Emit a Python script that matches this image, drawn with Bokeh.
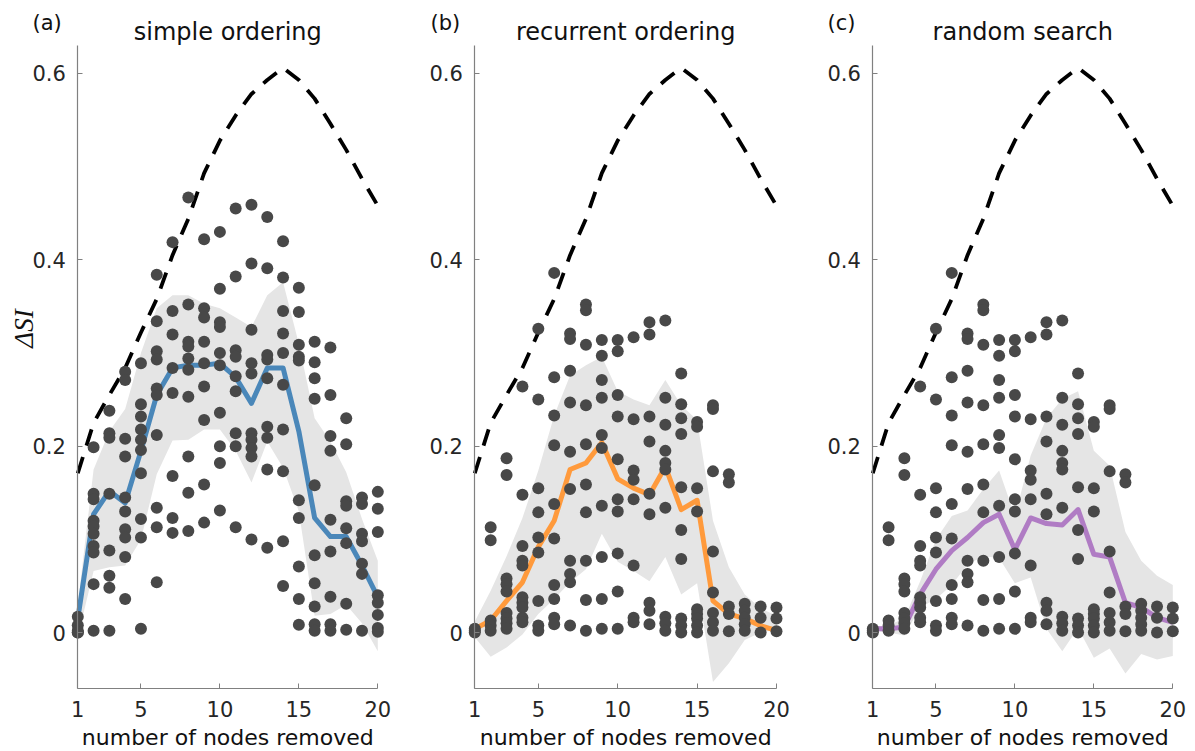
import math
from bokeh.plotting import figure
from bokeh.models import Range1d, FixedTicker, Label
from bokeh.layouts import row
from bokeh.embed import file_html
from bokeh.resources import INLINE

# ---------------- data ----------------
x_nodes = list(range(1, 21))
x_ticks = [1, 5, 10, 15, 20]
x_tick_labels = ["1", "5", "10", "15", "20"]
y_ticks = [0, 0.2, 0.4, 0.6]
y_tick_labels = ["0", "0.2", "0.4", "0.6"]

panel_titles = ["simple ordering", "recurrent ordering", "random search"]
panel_tags = ["(a)", "(b)", "(c)"]
x_label = "number of nodes removed"
y_label = "\u0394SI"

# dashed reference curve (same in every panel)
upper_curve = [0.171, 0.225, 0.255, 0.284, 0.322, 0.358, 0.405, 0.444, 0.493, 0.528,
               0.555, 0.578, 0.593, 0.606, 0.593, 0.573, 0.546, 0.518, 0.487, 0.458]

# individual trials, one list per number of removed nodes
scatter_simple = [
    [0.017, 0.008, 0.002, 0.0, 0.0],
    [0.199, 0.149, 0.143, 0.12, 0.114, 0.106, 0.093, 0.086, 0.052, 0.002],
    [0.238, 0.214, 0.209, 0.149, 0.088, 0.061, 0.048, 0.002],
    [0.28, 0.271, 0.208, 0.189, 0.145, 0.13, 0.111, 0.102, 0.081, 0.036],
    [0.289, 0.245, 0.232, 0.218, 0.207, 0.196, 0.171, 0.122, 0.102, 0.004],
    [0.384, 0.334, 0.302, 0.293, 0.262, 0.255, 0.212, 0.134, 0.113, 0.054],
    [0.419, 0.345, 0.32, 0.284, 0.257, 0.168, 0.123, 0.107],
    [0.467, 0.352, 0.312, 0.307, 0.294, 0.282, 0.253, 0.189, 0.15, 0.109],
    [0.422, 0.348, 0.338, 0.312, 0.289, 0.264, 0.228, 0.159, 0.118],
    [0.43, 0.369, 0.333, 0.328, 0.3, 0.287, 0.236, 0.2, 0.182, 0.131],
    [0.455, 0.382, 0.303, 0.296, 0.275, 0.259, 0.214, 0.2, 0.113],
    [0.459, 0.396, 0.325, 0.289, 0.278, 0.214, 0.207, 0.198, 0.189, 0.1],
    [0.446, 0.391, 0.298, 0.293, 0.273, 0.221, 0.209, 0.175, 0.091],
    [0.42, 0.381, 0.345, 0.321, 0.3, 0.266, 0.218, 0.173, 0.098, 0.05],
    [0.37, 0.344, 0.309, 0.296, 0.292, 0.142, 0.123, 0.071, 0.036, 0.0085],
    [0.312, 0.29, 0.273, 0.251, 0.158, 0.083, 0.053, 0.028, 0.009, 0.002],
    [0.306, 0.255, 0.211, 0.195, 0.121, 0.087, 0.0385, 0.009, 0.002],
    [0.23, 0.202, 0.141, 0.136, 0.112, 0.096, 0.031, 0.003],
    [0.145, 0.138, 0.106, 0.098, 0.074, 0.063, 0.002],
    [0.151, 0.133, 0.108, 0.04, 0.032, 0.019, 0.005, 0.001],
]

scatter_recurrent = [
    [0.004, 0.002, 0.0],
    [0.113, 0.099, 0.013, 0.0075, 0.002],
    [0.187, 0.169, 0.058, 0.052, 0.044, 0.021, 0.015, 0.01, 0.004],
    [0.264, 0.148, 0.093, 0.077, 0.072, 0.038, 0.032, 0.027, 0.016, 0.011],
    [0.326, 0.25, 0.155, 0.129, 0.102, 0.086, 0.034, 0.0075, 0.002],
    [0.386, 0.274, 0.233, 0.201, 0.138, 0.101, 0.051, 0.036, 0.016, 0.009],
    [0.321, 0.315, 0.281, 0.247, 0.194, 0.154, 0.077, 0.063, 0.054, 0.0075],
    [0.352, 0.346, 0.309, 0.244, 0.202, 0.159, 0.129, 0.077, 0.035, 0.002],
    [0.314, 0.297, 0.271, 0.252, 0.212, 0.198, 0.136, 0.081, 0.036, 0.004],
    [0.314, 0.302, 0.255, 0.232, 0.186, 0.143, 0.13, 0.085, 0.044, 0.004],
    [0.317, 0.229, 0.174, 0.164, 0.143, 0.072, 0.016, 0.011],
    [0.333, 0.32, 0.232, 0.205, 0.149, 0.127, 0.032, 0.0235, 0.009],
    [0.335, 0.252, 0.223, 0.195, 0.182, 0.175, 0.134, 0.017, 0.01, 0.002],
    [0.278, 0.245, 0.23, 0.213, 0.156, 0.11, 0.079, 0.015, 0.0075, 0.0],
    [0.226, 0.221, 0.155, 0.13, 0.025, 0.02, 0.015, 0.0075, 0.0],
    [0.244, 0.24, 0.173, 0.087, 0.043, 0.021, 0.011, 0.002],
    [0.17, 0.161, 0.028, 0.02, 0.0015],
    [0.031, 0.0235, 0.016, 0.009, 0.002],
    [0.028, 0.016, 0.0],
    [0.027, 0.015, 0.0015],
]

# the random-search panel shows the same trial cloud
scatter_random = scatter_recurrent

mean_simple = [0.015, 0.127, 0.152, 0.139, 0.195, 0.255, 0.284, 0.287, 0.287, 0.289,
               0.274, 0.246, 0.284, 0.284, 0.216, 0.123, 0.103, 0.103, 0.072, 0.038]
upper_simple = [0.03, 0.175, 0.216, 0.24, 0.3, 0.348, 0.362, 0.362, 0.353, 0.348,
                0.338, 0.328, 0.362, 0.376, 0.31, 0.23, 0.205, 0.172, 0.122, 0.077]
lower_simple = [-0.005, 0.066, 0.07, 0.072, 0.1, 0.17, 0.206, 0.207, 0.218, 0.218,
                0.195, 0.161, 0.205, 0.177, 0.13, 0.018, 0.02, 0.03, 0.01, -0.02]

mean_recurrent = [0.004, 0.013, 0.034, 0.054, 0.092, 0.12, 0.175, 0.182, 0.204, 0.165,
                  0.155, 0.148, 0.178, 0.132, 0.142, 0.034, 0.02, 0.015, 0.0075, 0.002]
upper_recurrent = [0.012, 0.045, 0.082, 0.123, 0.174, 0.233, 0.276, 0.287, 0.296, 0.259,
                   0.25, 0.244, 0.271, 0.244, 0.228, 0.12, 0.07, 0.041, 0.026, 0.018]
lower_recurrent = [-0.005, -0.026, -0.016, -0.002, 0.02, 0.036, 0.054, 0.068, 0.106, 0.076,
                   0.066, 0.055, 0.081, 0.041, 0.053, -0.053, -0.033, -0.008, 0.0, 0.003]

mean_random = [0.004, 0.004, 0.006, 0.041, 0.068, 0.088, 0.102, 0.118, 0.127, 0.089,
               0.123, 0.117, 0.1155, 0.132, 0.084, 0.081, 0.032, 0.027, 0.016, 0.011]
upper_random = [0.006, 0.008, 0.015, 0.055, 0.1, 0.125, 0.131, 0.154, 0.174, 0.125,
                0.19, 0.23, 0.251, 0.259, 0.195, 0.179, 0.108, 0.077, 0.061, 0.051]
lower_random = [0.002, 0.0, -0.003, 0.027, 0.036, 0.051, 0.073, 0.082, 0.08, 0.053,
                0.059, 0.004, -0.02, 0.005, -0.027, -0.017, -0.044, -0.023, -0.029, -0.025]

line_colors = ["#4a87b9", "#ff9a3c", "#b07cc4"]

# ---------------- layout (pixel geometry) ----------------
FONT = "DejaVu Sans"
TEXT_COLOR = "#262626"
AXIS_COLOR = "#808080"
DOT_COLOR = "#484848"
BAND_COLOR = "#e5e5e5"

HEIGHT = 751
Y_MIN, Y_MAX = -0.06, 0.63
AXIS_BOTTOM_PX = 688    # canvas row where y = Y_MIN
AXIS_TOP_PX = 45        # canvas row where y = Y_MAX
PX_PER_Y = (AXIS_BOTTOM_PX - AXIS_TOP_PX) / (Y_MAX - Y_MIN)


def y_at(px_row):
    return Y_MIN + (AXIS_BOTTOM_PX - px_row) / PX_PER_Y


panels = [
    dict(scatter=scatter_simple, mean=mean_simple, upper=upper_simple, lower=lower_simple,
         width=397, x1_px=77.3, x20_px=377.3, tag_px=32, ylab=True),
    dict(scatter=scatter_recurrent, mean=mean_recurrent, upper=upper_recurrent, lower=lower_recurrent,
         width=399, x1_px=77.3, x20_px=379.0, tag_px=33, ylab=False),
    dict(scatter=scatter_random, mean=mean_random, upper=upper_random, lower=lower_random,
         width=399, x1_px=76.3, x20_px=376.3, tag_px=31, ylab=False),
]

figs = []
for i, cfg in enumerate(panels):
    ppx = (cfg["x20_px"] - cfg["x1_px"]) / 19.0
    x_start = 1 - cfg["x1_px"] / ppx
    x_end = x_start + cfg["width"] / ppx

    def x_at(px_col, x_start=x_start, ppx=ppx):
        return x_start + px_col / ppx

    p = figure(width=cfg["width"], height=HEIGHT,
               x_range=Range1d(x_start, x_end), y_range=Range1d(y_at(HEIGHT), y_at(0)),
               output_backend="svg", toolbar_location=None,
               min_border=0, min_border_left=0, min_border_right=0,
               min_border_top=0, min_border_bottom=0,
               outline_line_color=None, background_fill_color="white",
               border_fill_color="white")
    p.grid.visible = False

    # shaded band, mean line, dashed curve, trials
    p.varea(x=x_nodes, y1=cfg["lower"], y2=cfg["upper"], fill_color=BAND_COLOR)
    p.line(x_nodes, cfg["mean"], line_color=line_colors[i], line_width=5,
           line_join="round")
    p.line(x_nodes, upper_curve, line_color="black", line_width=3.8,
           line_dash="17 12")
    xs, ys = [], []
    for xv, vals in zip(x_nodes, cfg["scatter"]):
        for v in vals:
            xs.append(xv)
            ys.append(v)
    p.scatter(xs, ys, size=12, fill_color=DOT_COLOR, line_color=None)

    # x axis pinned at y = Y_MIN
    xa = p.xaxis[0]
    xa.ticker = FixedTicker(ticks=x_ticks)
    xa.major_label_overrides = dict(zip(x_ticks, x_tick_labels))
    xa.fixed_location = Y_MIN
    xa.bounds = (1, 20)
    xa.minor_tick_line_color = None
    xa.major_tick_in = 5
    xa.major_tick_out = 0
    xa.major_tick_line_color = AXIS_COLOR
    xa.axis_line_color = AXIS_COLOR
    xa.axis_line_width = 1.2
    xa.major_label_text_font = FONT
    xa.major_label_text_font_size = "21px"
    xa.major_label_text_color = TEXT_COLOR
    xa.major_label_standoff = 12

    # y axis pinned at x = 1
    ya = p.yaxis[0]
    ya.ticker = FixedTicker(ticks=y_ticks)
    ya.major_label_overrides = dict(zip(y_ticks, y_tick_labels))
    ya.fixed_location = 1
    ya.bounds = (Y_MIN, Y_MAX)
    ya.minor_tick_line_color = None
    ya.major_tick_in = 5
    ya.major_tick_out = 0
    ya.major_tick_line_color = AXIS_COLOR
    ya.axis_line_color = AXIS_COLOR
    ya.axis_line_width = 1.2
    ya.major_label_text_font = FONT
    ya.major_label_text_font_size = "21px"
    ya.major_label_text_color = TEXT_COLOR
    ya.major_label_standoff = 12

    # x axis label
    p.add_layout(Label(x=10.5, y=y_at(749), text=x_label,
                       text_align="center", text_baseline="bottom",
                       text_font=FONT, text_font_size="22px", text_color="#111111"))
    # title
    p.add_layout(Label(x=10.5, y=y_at(31), text=panel_titles[i],
                       text_align="center", text_baseline="middle",
                       text_font=FONT, text_font_size="24px", text_color="#111111"))
    # panel tag
    p.add_layout(Label(x=x_at(cfg["tag_px"]), y=y_at(22), text=panel_tags[i],
                       text_align="left", text_baseline="middle",
                       text_font=FONT, text_font_size="21px", text_color="#111111"))
    if cfg["ylab"]:
        p.add_layout(Label(x=x_at(23), y=y_at(328), text=y_label, angle=math.pi / 2,
                           text_align="center", text_baseline="middle",
                           text_font="Liberation Serif", text_font_style="italic",
                           text_font_size="27px", text_color="#111111"))
    figs.append(p)

layout = row(*figs)
open("out.html", "w").write(file_html(layout, INLINE))
